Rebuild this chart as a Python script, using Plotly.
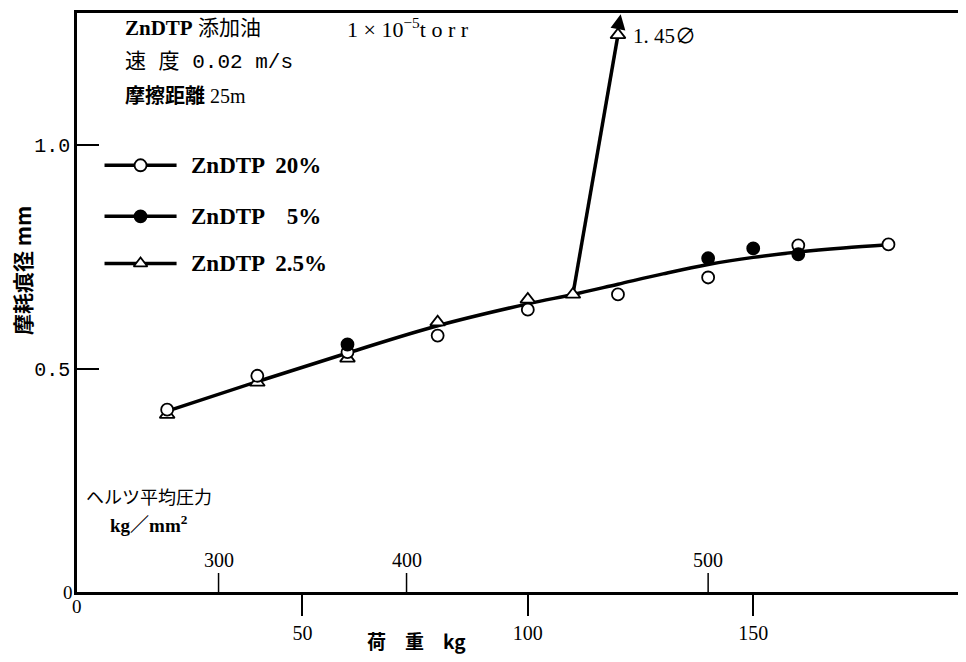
import plotly.graph_objects as go

# ---------------- data ----------------
load_20 = [20, 40, 60, 80, 100, 120, 140, 160, 180]
wear_20 = [0.408, 0.484, 0.537, 0.574, 0.632, 0.666, 0.704, 0.776, 0.778]

load_5 = [60, 140, 150, 160]
wear_5 = [0.554, 0.747, 0.769, 0.756]

load_25 = [20, 40, 60, 80, 100, 110, 120]
wear_25 = [0.397, 0.469, 0.523, 0.604, 0.655, 0.666, 1.247]

# smooth fitted curve drawn through the data
fit_load = [20, 40, 60, 80, 100, 110, 120, 130, 140, 150, 160, 170, 180]
fit_wear = [0.405, 0.471, 0.535, 0.596, 0.645, 0.666, 0.689, 0.712, 0.733, 0.749, 0.761, 0.770, 0.777]

# Hertz mean pressure secondary scale (kg/mm^2) placed at load positions
hertz_labels = ["300", "400", "500"]
hertz_load = [31.4, 73.1, 140.0]

x_ticks = [50, 100, 150]
y_ticks = [0.5, 1.0]
y_ticktext = ["0.5", "1.0"]

legend_names = ["ZnDTP  20%", "ZnDTP    5%", "ZnDTP  2.5%"]

# ---------------- figure ----------------
SERIF = "Liberation Serif, Noto Sans CJK JP"
MONO = "Liberation Mono, Noto Sans CJK JP"
CJK = "Noto Sans CJK JP, Liberation Serif"
XMAX = 197.2
YMAX = 1.296

# pixel helpers in window coordinates (plot area: x 77..966, y 13..592)
def dx(px):
    return (px - 77.5) / 4.505

def dy(py):
    return (591.0 - py) / 446.0

def paper_x(px):
    return (px - 77.0) / 889.0

def paper_y(py):
    return (592.0 - py) / 579.0

fig = go.Figure()

# fitted curve
fig.add_trace(go.Scatter(x=fit_load, y=fit_wear, mode="lines",
                         line=dict(color="black", width=3.5, shape="spline"),
                         showlegend=False, hoverinfo="skip"))
# jump of the 2.5% series
fig.add_trace(go.Scatter(x=load_25[-2:], y=wear_25[-2:], mode="lines",
                         line=dict(color="black", width=3.5),
                         showlegend=False, hoverinfo="skip"))

marker_line = dict(color="black", width=1.8)
fig.add_trace(go.Scatter(x=load_25, y=wear_25, mode="markers",
                         marker=dict(symbol="triangle-up", size=13, color="white", line=marker_line),
                         showlegend=False))
fig.add_trace(go.Scatter(x=load_20, y=wear_20, mode="markers",
                         marker=dict(symbol="circle", size=12, color="white", line=marker_line),
                         showlegend=False))
fig.add_trace(go.Scatter(x=load_5, y=wear_5, mode="markers",
                         marker=dict(symbol="circle", size=12, color="black", line=marker_line),
                         showlegend=False))

# hand-drawn style legend
leg_rows_py = [165, 216, 263]
leg_symbols = [("circle", "white"), ("circle", "black"), ("triangle-up", "white")]
annotations = []
for row_py, (sym, col), name in zip(leg_rows_py, leg_symbols, legend_names):
    yv = dy(row_py)
    fig.add_trace(go.Scatter(x=[dx(105), dx(177)], y=[yv, yv], mode="lines",
                             line=dict(color="black", width=3.5),
                             showlegend=False, hoverinfo="skip"))
    fig.add_trace(go.Scatter(x=[dx(141)], y=[yv], mode="markers",
                             marker=dict(symbol=sym, size=12, color=col, line=marker_line),
                             showlegend=False, hoverinfo="skip"))
    annotations.append(dict(x=dx(189), y=yv, xref="x", yref="y", text="<b>" + name + "</b>",
                            showarrow=False, xanchor="left", yanchor="middle",
                            font=dict(family=SERIF, size=23, color="black")))

# arrow to the off-scale point
annotations.append(dict(x=120.6, y=1.293, ax=120.0, ay=1.26, xref="x", yref="y",
                        axref="x", ayref="y", showarrow=True, arrowhead=2,
                        arrowsize=1.2, arrowwidth=2.5, arrowcolor="black", text=""))
annotations.append(dict(x=dx(631), y=dy(36), xref="x", yref="y", text="1. 45∅",
                        showarrow=False, xanchor="left", yanchor="middle",
                        font=dict(family=SERIF, size=21, color="black")))

# header text
annotations += [
    dict(x=dx(123), y=dy(28), xref="x", yref="y", text="<b>ZnDTP</b> 添加油",
         showarrow=False, xanchor="left", yanchor="middle",
         font=dict(family=SERIF, size=21, color="black")),
    dict(x=dx(345), y=dy(28), xref="x", yref="y", text="1 × 10<sup>−5</sup>t o r r",
         showarrow=False, xanchor="left", yanchor="middle",
         font=dict(family=SERIF, size=22, color="black")),
    dict(x=dx(123), y=dy(62), xref="x", yref="y", text="速 度 0.02 m/s",
         showarrow=False, xanchor="left", yanchor="middle",
         font=dict(family=MONO, size=21, color="black")),
    dict(x=dx(123), y=dy(96), xref="x", yref="y", text="<b>摩擦距離</b> 25m",
         showarrow=False, xanchor="left", yanchor="middle",
         font=dict(family=SERIF, size=20, color="black")),
    dict(x=dx(84), y=dy(495), xref="x", yref="y", text="ヘルツ平均圧力",
         showarrow=False, xanchor="left", yanchor="middle",
         font=dict(family=CJK, size=18, color="black")),
    dict(x=dx(108), y=dy(523), xref="x", yref="y", text="<b>kg／mm<sup>2</sup></b>",
         showarrow=False, xanchor="left", yanchor="middle",
         font=dict(family=SERIF, size=19, color="black")),
]

# Hertz pressure scale ticks & labels
shapes = []
for lab, xv in zip(hertz_labels, hertz_load):
    shapes.append(dict(type="line", xref="x", yref="y", x0=xv, x1=xv, y0=0, y1=dy(572),
                       line=dict(color="black", width=1.5)))
    annotations.append(dict(x=xv, y=dy(559), xref="x", yref="y", text=lab,
                            showarrow=False, xanchor="center", yanchor="middle",
                            font=dict(family=SERIF, size=20, color="black")))

# zero labels and axis titles
annotations += [
    dict(x=0, y=0, xref="x", yref="y", text="0", showarrow=False,
         xanchor="center", yanchor="top", yshift=-2,
         font=dict(family=SERIF, size=19, color="black")),
    dict(x=0, y=0, xref="x", yref="y", text="0", showarrow=False,
         xanchor="right", yanchor="middle", xshift=-2,
         font=dict(family=SERIF, size=19, color="black")),
    dict(x=paper_x(416), y=paper_y(640), xref="paper", yref="paper", text="<b>荷　重　kg</b>",
         showarrow=False, xanchor="center", yanchor="middle",
         font=dict(family=CJK, size=19, color="black")),
    dict(x=paper_x(22), y=paper_y(271), xref="paper", yref="paper", text="<b>摩耗痕径 mm</b>",
         showarrow=False, textangle=-90, xanchor="center", yanchor="middle",
         font=dict(family=CJK, size=21, color="black")),
]

# the page body has an 8px margin: size the figure so the plot area sits
# at window x 77..966, y 13..592
fig.update_layout(
    width=958, height=646,
    margin=dict(l=69, r=0, t=5, b=62),
    paper_bgcolor="white", plot_bgcolor="white",
    showlegend=False,
    annotations=annotations, shapes=shapes,
    xaxis=dict(range=[0, XMAX], showgrid=False, zeroline=False,
               showline=True, linecolor="black", linewidth=2.5, mirror=True,
               tickmode="array", tickvals=x_ticks, ticktext=[str(v) for v in x_ticks],
               ticks="outside", ticklen=21, tickwidth=1.5, tickcolor="black",
               tickfont=dict(family=SERIF, size=20, color="black")),
    yaxis=dict(range=[0, YMAX], showgrid=False, zeroline=False,
               showline=True, linecolor="black", linewidth=2.5,
               tickmode="array", tickvals=y_ticks, ticktext=y_ticktext,
               ticks="inside", ticklen=22, tickwidth=1.5, tickcolor="black",
               tickfont=dict(family=MONO, size=20, color="black")),
)

fig.write_html("out.html")
